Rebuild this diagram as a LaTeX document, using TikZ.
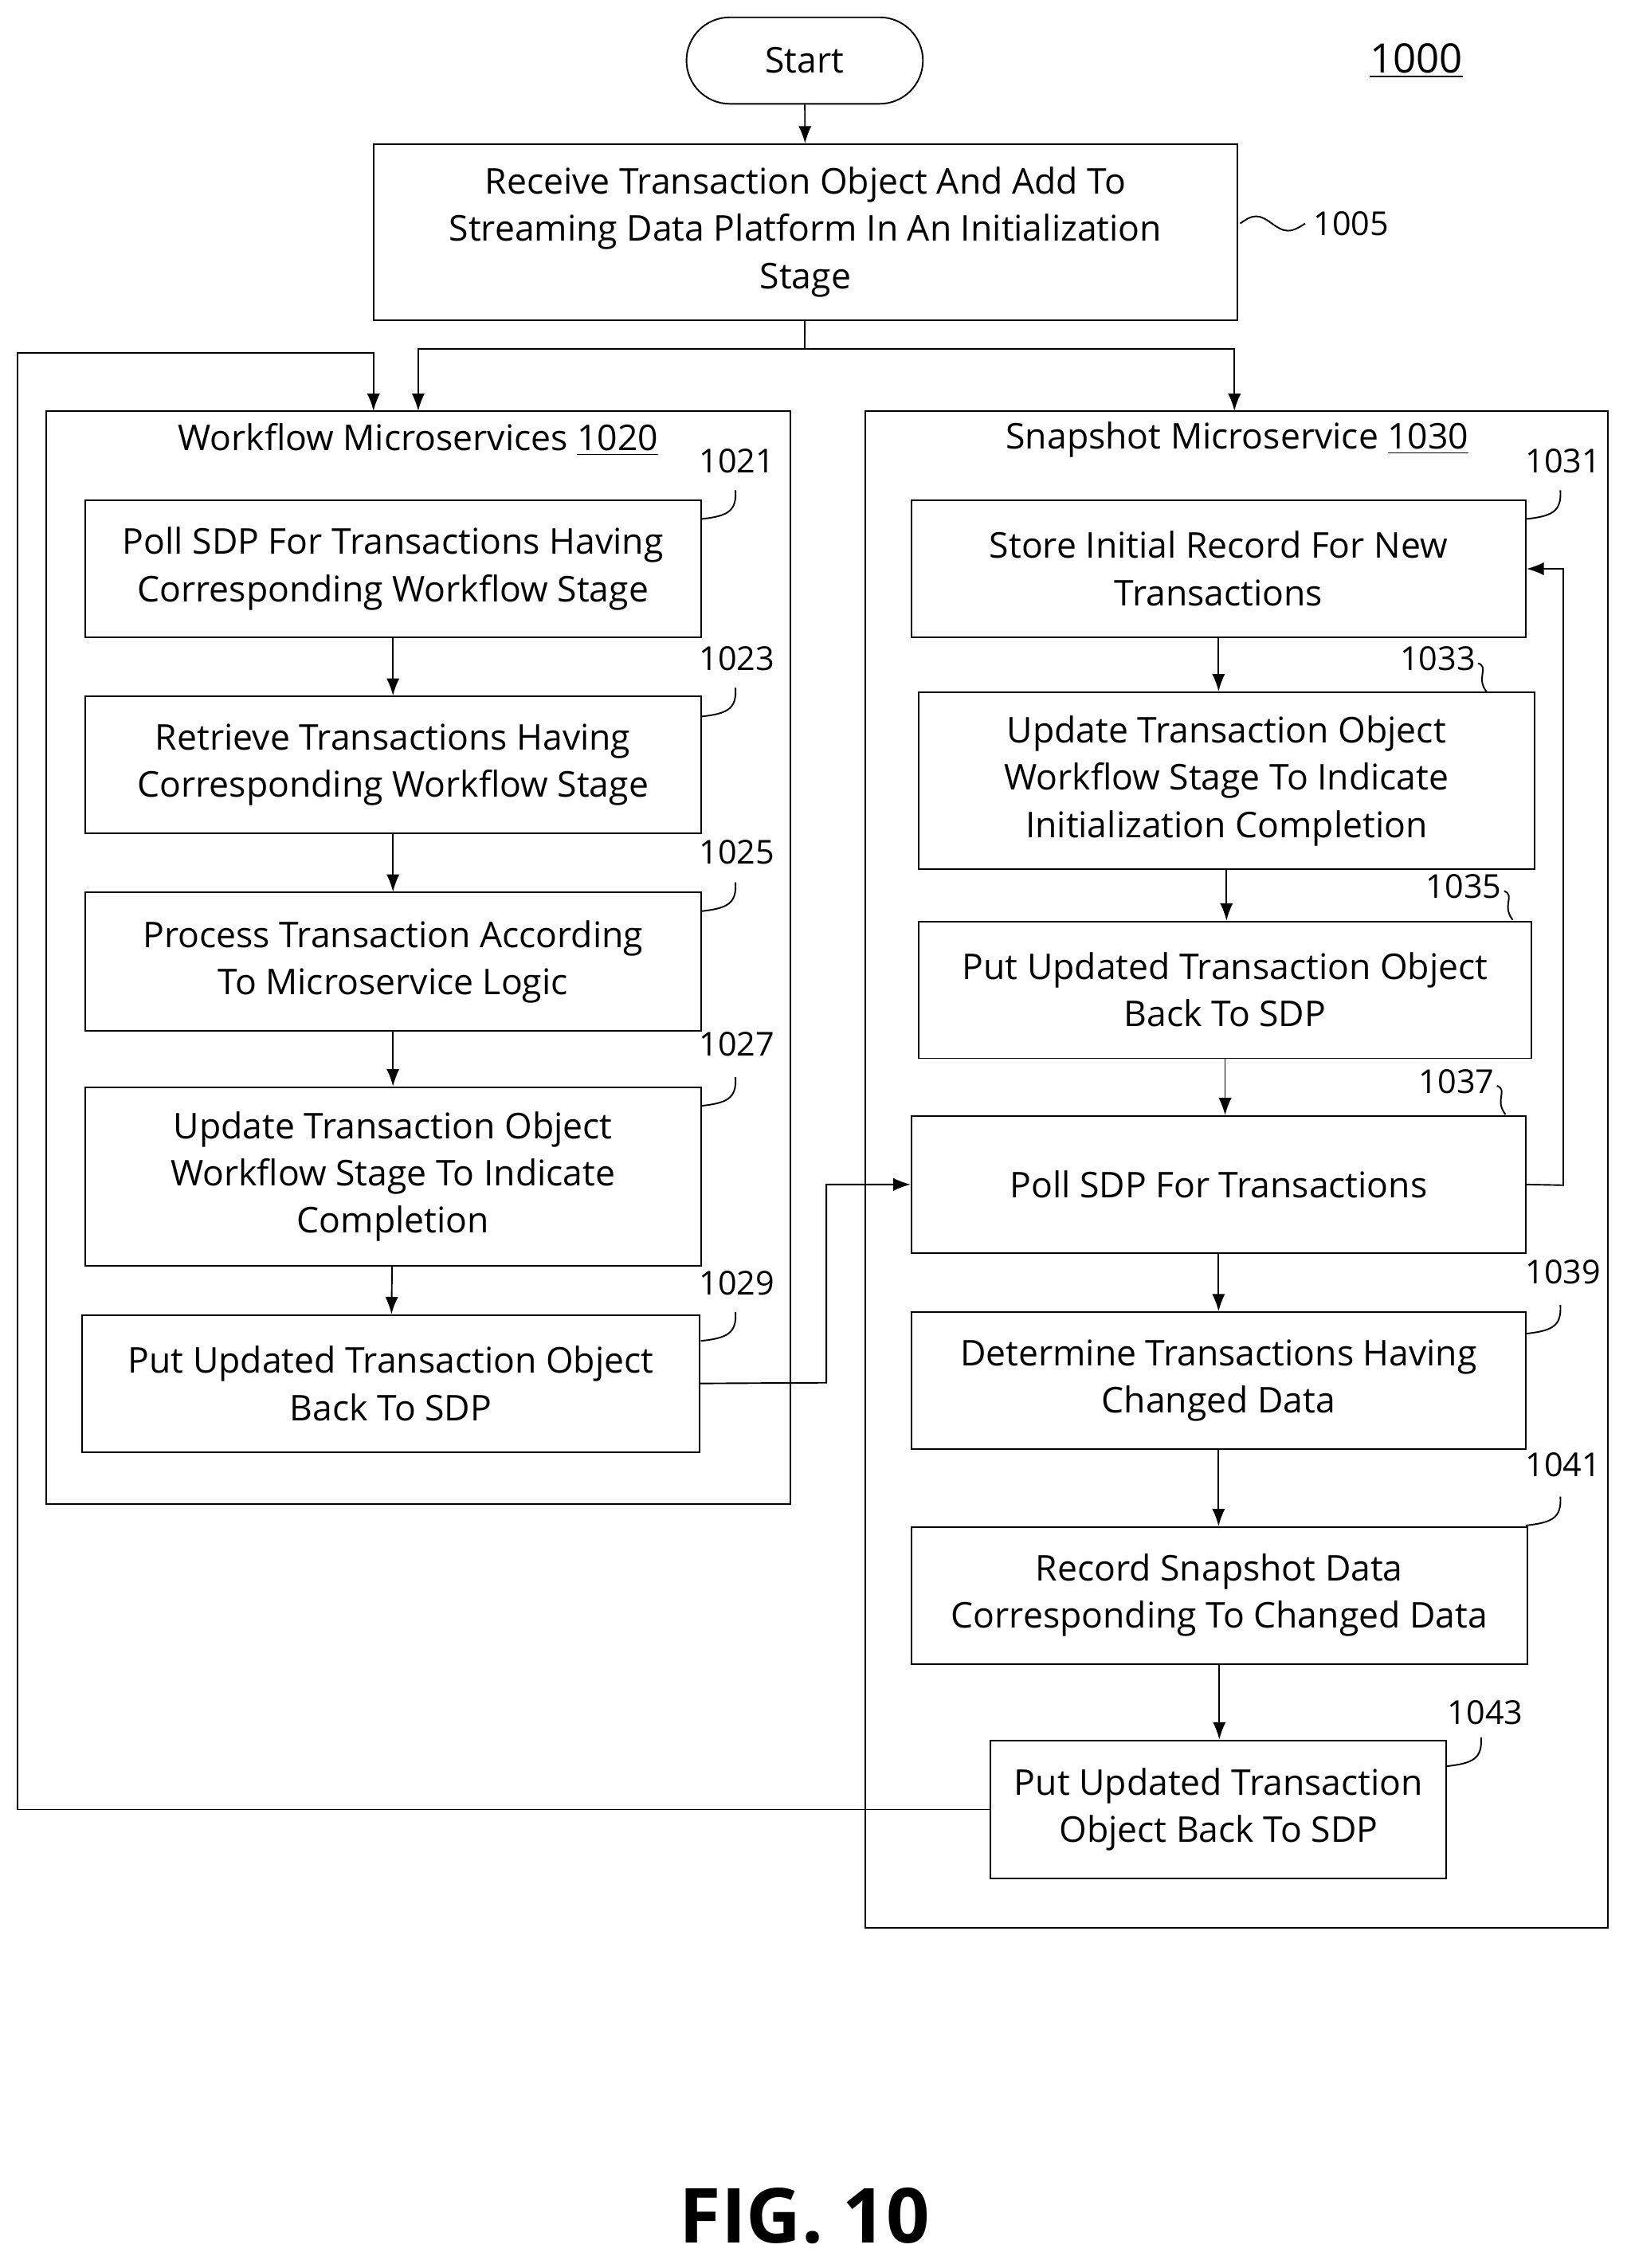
\documentclass[tikz,border=0pt]{standalone}
\usepackage{fontspec}
\setmainfont{Open Sans}
\usetikzlibrary{arrows.meta}
\newcommand\bx[6]{\pgfmathsetmacro\cx{(#2+#4)/2}\pgfmathsetmacro\cy{(#3+#5)/2}\pgfmathsetmacro\w{(#4-#2)*0.02}\pgfmathsetmacro\h{(#5-#3)*0.02}\node[box,minimum width=\w cm,minimum height=\h cm] (#1) at (\cx,\cy) {#6};}
\begin{document}
\begin{tikzpicture}[x=0.02cm,y=-0.02cm,
 box/.style={draw,line width=0.6pt,inner sep=0pt,align=center,font=\fontsize{14}{18.7}\selectfont},
 lbl/.style={font=\fontsize{13}{15}\selectfont},
 ttl/.style={font=\fontsize{14}{17}\selectfont},
 arr/.style={-{Latex[length=2.4mm,width=1.8mm]},line width=0.6pt},
 ln/.style={line width=0.6pt}]
\useasboundingbox (0,0) rectangle (1131,1573);
\node[draw,line width=0.6pt,rounded corners=0.6cm,minimum width=3.28cm,minimum height=1.2cm,ttl] (start) at (558,42) {Start};
\node[font=\fontsize{16}{18}\selectfont] (fig) at (982,42) {\underline{1000}};
\bx{n1005}{259}{100}{858}{222}{Receive Transaction Object And Add To\\Streaming Data Platform In An Initialization\\Stage}
\bx{wf}{32}{285}{548}{1043}{}
\bx{sn}{600}{285}{1115}{1337}{}
\node[ttl] (wft) at (290,305) {Workflow Microservices \underline{1020}};
\node[ttl] (snt) at (858,305) {Snapshot Microservice \underline{1030}};
\bx{n1021}{59}{347}{486}{442}{Poll SDP For Transactions Having\\Corresponding Workflow Stage}
\bx{n1023}{59}{483}{486}{578}{Retrieve Transactions Having\\Corresponding Workflow Stage}
\bx{n1025}{59}{619}{486}{715}{Process Transaction According\\To Microservice Logic}
\bx{n1027}{59}{754}{486}{878}{Update Transaction Object\\Workflow Stage To Indicate\\Completion}
\bx{n1029}{57}{912}{485}{1007}{Put Updated Transaction Object\\Back To SDP}
\bx{n1031}{632}{347}{1058}{442}{Store Initial Record For New\\Transactions}
\bx{n1033}{637}{480}{1064}{603}{Update Transaction Object\\Workflow Stage To Indicate\\Initialization Completion}
\bx{n1035}{637}{639}{1062}{734}{Put Updated Transaction Object\\Back To SDP}
\bx{n1037}{632}{774}{1058}{869}{Poll SDP For Transactions}
\bx{n1039}{632}{910}{1058}{1005}{Determine Transactions Having\\Changed Data}
\bx{n1041}{632}{1059}{1059}{1154}{Record Snapshot Data\\Corresponding To Changed Data}
\bx{n1043}{687}{1207}{1003}{1303}{Put Updated Transaction\\Object Back To SDP}
\node[font=\fontsize{30}{32}\selectfont\bfseries] (figl) at (558,1537) {FIG. 10};
% numbers
\node[lbl] (l1005) at (937,155) {1005};
\node[lbl] (l1021) at (511,320) {1021};
\node[lbl] (l1023) at (511,457) {1023};
\node[lbl] (l1025) at (511,591) {1025};
\node[lbl] (l1027) at (511,724) {1027};
\node[lbl] (l1029) at (511,890) {1029};
\node[lbl] (l1031) at (1084,320) {1031};
\node[lbl] (l1033) at (997,457) {1033};
\node[lbl] (l1035) at (1015,615) {1035};
\node[lbl] (l1037) at (1010,750) {1037};
\node[lbl] (l1039) at (1084,882) {1039};
\node[lbl] (l1041) at (1084,1016) {1041};
\node[lbl] (l1043) at (1030,1188) {1043};
\draw[ln] (860,155) sin (871,150) cos (882,155) sin (893,160) cos (905,155);
\foreach \x/\y in {486/360,486/497,486/632,486/767,486/930,1058/360,1058/925,1058/1058,1003/1225}
  \draw[ln] (\x,\y) .. controls (\x+18,\y-2) and (\x+25,\y-5) .. (\x+24,\y-20);
\foreach \x/\y in {1025/460,1043/618,1038/753}
  \draw[ln] (\x,\y) .. controls (\x+8,\y+3) and (\x-2,\y+10) .. (\x+6,\y+20);
% connectors
\draw[arr] (start) -- (n1005);
\coordinate (sp) at (558,242);
\coordinate (wa) at (290,285);
\coordinate (sa) at (856,285);
\draw[ln] (n1005) -- (sp);
\draw[arr] (sp) -| (wa);
\draw[arr] (sp) -| (sa);
\draw[arr] (n1021) -- (n1023);
\draw[arr] (n1023) -- (n1025);
\draw[arr] (n1025) -- (n1027);
\draw[arr] (n1027) -- (n1029);
\draw[arr] (n1029.east) -- (573,959) |- (n1037.west);
\draw[arr] (n1031) -- (n1031|-n1033.north);
\draw[arr] (n1033) -- (n1033|-n1035.north);
\draw[arr] (n1035) -- (n1035|-n1037.north);
\draw[arr] (n1037) -- (n1037|-n1039.north);
\draw[arr] (n1039) -- (n1039|-n1041.north);
\draw[arr] (n1041) -- (n1041|-n1043.north);
\draw[arr] (n1037.east) -- (1084,822) |- (n1031.east);
\coordinate (la) at (259,285);
\draw[arr] (n1043.west) -- (12,1255) |- (259,245) -- (la);
\end{tikzpicture}
\end{document}
